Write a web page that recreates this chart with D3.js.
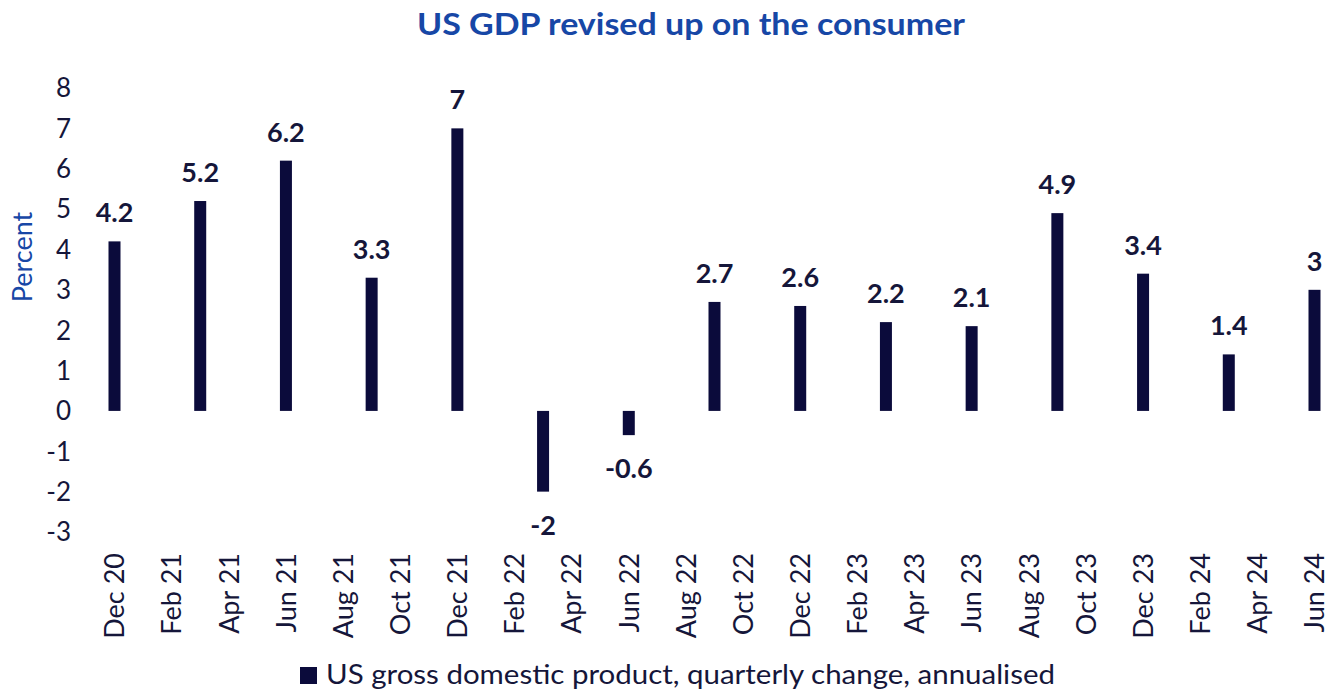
<!DOCTYPE html>
<html>
<head>
<meta charset="utf-8">
<script src="https://cdn.jsdelivr.net/npm/d3@7"></script>
<style>
  body { margin:0; background:#fff; }
  svg { display:block; font-family: Lato, "Open Sans", sans-serif; }
</style>
</head>
<body>
<svg id="chart" width="1343" height="690"></svg>
<script>
var TITLE = 'US GDP revised up on the consumer';
var LEGEND = 'US gross domestic product, quarterly change, annualised';
var QUARTERS = ['Dec 20','Mar 21','Jun 21','Sep 21','Dec 21','Mar 22','Jun 22','Sep 22','Dec 22','Mar 23','Jun 23','Sep 23','Dec 23','Mar 24','Jun 24'];
var GDP = [4.2, 5.2, 6.2, 3.3, 7, -2, -0.6, 2.7, 2.6, 2.2, 2.1, 4.9, 3.4, 1.4, 3];
var Y_TICKS = [8,7,6,5,4,3,2,1,0,-1,-2,-3];

var NAVY = '#0b0b3b';
var BLUE = '#1747a6';
var TEXT = '#15163a';

var fmt = d3.utcFormat('%b %y');
// every month on the axis, Dec 20 .. Jun 24
var MONTHS = d3.utcMonth.range(new Date(Date.UTC(2020,11,1)), new Date(Date.UTC(2024,6,1))).map(fmt);
var X_LABELS = MONTHS.filter(function(d,i){ return i % 2 == 0; });

var svg = d3.select('#chart');

var x = d3.scalePoint().domain(MONTHS).range([114.5, 1314.5]);
var y = d3.scaleLinear().domain([-3, 8]).range([532, 88]);

svg.append('text')
  .attr('x', 691).attr('y', 35)
  .attr('text-anchor', 'middle')
  .attr('fill', BLUE)
  .attr('font-weight', 700)
  .attr('font-size', 30)
  .attr('textLength', 548).attr('lengthAdjust', 'spacingAndGlyphs')
  .text(TITLE);

// y axis labels (no line, no ticks)
svg.append('g').selectAll('text')
  .data(Y_TICKS)
  .enter().append('text')
  .attr('x', 71)
  .attr('y', function(d){ return y(d); })
  .attr('dy', '0.36em')
  .attr('text-anchor', 'end')
  .attr('font-size', 26)
  .attr('fill', TEXT)
  .text(function(d){ return d; });

svg.append('text')
  .attr('transform', 'translate(32,257) rotate(-90)')
  .attr('text-anchor', 'middle')
  .attr('font-size', 27)
  .attr('fill', BLUE)
  .text('Percent');

// x labels, rotated
svg.append('g').selectAll('text')
  .data(X_LABELS)
  .enter().append('text')
  .attr('transform', function(d){ return 'translate(' + x(d) + ',553) rotate(-90)'; })
  .attr('dy', '0.36em')
  .attr('text-anchor', 'end')
  .attr('font-size', 27)
  .attr('fill', TEXT)
  .text(function(d){ return d; });

var BW = 12;
var bars = QUARTERS.map(function(q, i){ return {q: q, v: GDP[i], m: fmt(d3.utcParse('%b %y')(q))}; });

svg.append('g').selectAll('rect')
  .data(bars)
  .enter().append('rect')
  .attr('x', function(d){ return x(d.m) - BW/2; })
  .attr('y', function(d){ return y(Math.max(0, d.v)); })
  .attr('width', BW)
  .attr('height', function(d){ return Math.abs(y(d.v) - y(0)); })
  .attr('fill', NAVY);

svg.append('g').selectAll('text')
  .data(bars)
  .enter().append('text')
  .attr('x', function(d){ return x(d.m); })
  .attr('y', function(d){ return d.v >= 0 ? y(d.v) - 19 : y(d.v) + 43; })
  .attr('text-anchor', 'middle')
  .attr('font-size', 27)
  .attr('font-weight', 700)
  .attr('fill', TEXT)
  .text(function(d){ return d.v; });

// legend
svg.append('rect').attr('x', 300).attr('y', 667).attr('width', 17).attr('height', 17).attr('fill', NAVY);
svg.append('text')
  .attr('x', 326).attr('y', 684)
  .attr('font-size', 27)
  .attr('fill', TEXT)
  .attr('textLength', 729).attr('lengthAdjust', 'spacingAndGlyphs')
  .text(LEGEND);
</script>
</body>
</html>
